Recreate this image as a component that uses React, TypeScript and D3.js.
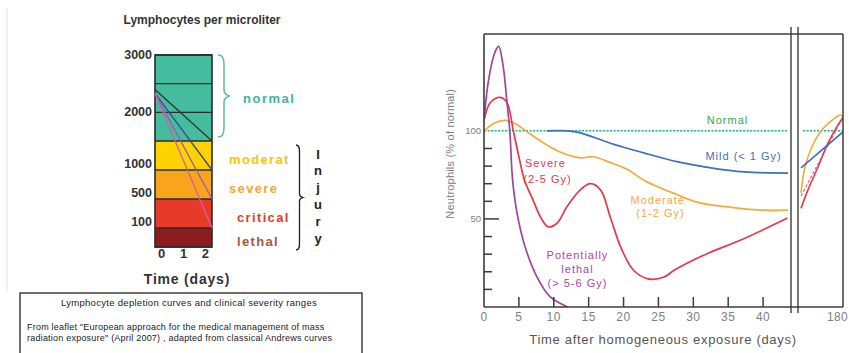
import React from 'react';
import * as d3 from 'd3';

// ---------- Left panel data (lymphocyte depletion) ----------
const severityCategories = ['lethal', 'critical', 'severe', 'moderat', 'normal'];
const severityLower = [0, 100, 500, 1000, 1500];
const severityUpper = [100, 500, 1000, 1500, 3000];
const severityFill = ['#8e1b1e', '#e83a28', '#f8a41c', '#ffd200', '#44bc9e'];
const severityLabelColor = ['#a8563f', '#e8392b', '#f6a533', '#f7c600', '#3db596'];
const gridCounts = [0, 100, 500, 1000, 1500, 2000, 2500, 3000];
const countTicks = [3000, 2000, 1000, 500, 100];
const dayTicks = ['0', '1', '2'];
const depletionStart = [2400, 2330, 2330, 2330];
const depletionEnd = [1500, 1000, 500, 100];
const depletionColor = ['#333333', '#3b4a8c', '#9a5ab4', '#d460a0'];
const injuryLetters = ['I', 'n', 'j', 'u', 'r', 'y'];

// ---------- Right panel data (neutrophils) ----------
const xTicksDays = [5, 10, 15, 20, 25, 30, 35, 40];
const xTickLabels = [0, 5, 10, 15, 20, 25, 30, 35, 40];
const yMinorTicks = [10, 20, 30, 40, 60, 70, 80, 90];
const yMajorTicks = [50];
const yTickLabels = [100, 50];

const mildDays = [9, 12, 13.8, 18.1, 22.9, 27.8, 32.5, 37.3, 43.6];
const mildVals = [100, 100, 98.9, 93, 87.5, 82.4, 79, 76.7, 76];
const moderateDays = [0, 1.5, 3, 4.5, 6, 8, 10.9, 13.8, 15.7, 18.1, 20.6, 22.9, 25.3, 27.8, 30.1, 32.5, 35, 37.3, 39.7, 43.6];
const moderateVals = [100, 104.5, 106, 104, 100, 94.5, 88, 84.7, 85.3, 82, 78, 72, 67.6, 63.6, 60, 58, 56.8, 55.7, 55, 55];
const severeDays = [0, 0.9, 2.3, 3.3, 4.2, 5.1, 5.8, 7, 8.1, 9.2, 10.5, 11.9, 13.8, 15.25, 16.7, 18.1, 19.6, 21.4, 23.5, 25.8, 27.3, 32.2, 36.8, 43.5];
const severeVals = [106, 116, 119, 116, 100, 83.5, 72, 61, 51, 45.5, 47.7, 57, 66.5, 70, 66.5, 51, 34, 21, 16, 17, 21, 30.7, 38, 50.5];
const lethalDays = [0, 0.7, 1.6, 2.1, 2.7, 3.3, 3.7, 4.1, 4.75, 5.9, 7.6, 9.5, 12];
const lethalVals = [106, 130, 145, 148, 138, 116, 100, 72, 53, 34, 17, 5.7, 0];

const mildLateDays = [54, 180];
const mildLateVals = [79, 99.4];
const moderateLateDays = [54, 66, 87, 117, 147, 171, 180];
const moderateLateVals = [64.8, 79.5, 91, 100.6, 106, 109, 108];
const severeLateDays = [54, 75, 105, 135, 165, 180];
const severeLateVals = [56, 66.5, 79.5, 93, 103.4, 107.4];
const severeLate2Days = [54, 180];
const severeLate2Vals = [63, 108];

const C = {
  purple: '#a0449e',
  red: '#e6374f',
  orange: '#f4a93a',
  blue: '#3d6fbf',
  normal: '#27b394',
  normalText: '#35a84a',
  axis: '#3c3c3c',
  gray: '#808080',
};

const FONT = '"Liberation Sans", Arial, Helvetica, sans-serif';

function bracePath(x: number, y1: number, y2: number, w: number) {
  const ym = (y1 + y2) / 2;
  const q = w / 2;
  return `M${x},${y1} C${x + q},${y1} ${x + q},${y1 + q} ${x + q},${y1 + 2 * q} L${x + q},${ym - q} C${x + q},${ym - 1} ${x + w},${ym} ${x + w},${ym} C${x + w},${ym} ${x + q},${ym + 1} ${x + q},${ym + q} L${x + q},${y2 - 2 * q} C${x + q},${y2 - q} ${x + q},${y2} ${x},${y2}`;
}

const zip = (a: number[], b: number[]) => a.map((d, i) => [d, b[i]] as [number, number]);

export default function App() {
  const W = 849, H = 353;

  // left scales
  const yL = d3.scaleLinear().domain([0, 100, 500, 1000, 1500, 3000]).range([247, 228, 199, 170, 141, 55]);
  const colX0 = 155, colX1 = 212;
  const dayX = d3.scaleLinear().domain([0, 2]).range([colX0, colX1]);
  const dayLabelX = d3.scalePoint<string>().domain(dayTicks).range([colX0, colX1]).padding(0.3);
  const injuryY = d3.scalePoint<string>().domain(injuryLetters).range([154, 238]);

  // right scales
  const xN = d3.scaleLinear().domain([0, 44]).range([484, 791]);
  const xR = d3.scaleLinear().domain([45, 180]).range([798, 843]);
  const yN = d3.scaleLinear().domain([0, 155]).range([307, 34]);
  const top = yN(155), bottom = yN(0);
  const left = xN(0), breakL = xN(44), breakR = xR(45), right = xR(180);

  const lineMain = d3.line<[number, number]>().x(d => xN(d[0])).y(d => yN(d[1])).curve(d3.curveCatmullRom.alpha(0.5));
  const lineLate = d3.line<[number, number]>().x(d => xR(d[0])).y(d => yN(d[1])).curve(d3.curveCatmullRom.alpha(0.5));

  const labelStyle = { fontFamily: FONT, fontSize: 11, letterSpacing: 1 } as React.CSSProperties;

  return (
    <svg width={W} height={H} viewBox={`0 0 ${W} ${H}`} style={{ position: 'absolute', left: 0, top: 0, background: '#fff' }} fontFamily={FONT}>
      <defs>
        <clipPath id="clipMain"><rect x={left} y={top - 20} width={breakL - left - 3} height={bottom - top + 20} /></clipPath>
        <clipPath id="clipLate"><rect x={breakR + 1} y={top - 20} width={right - breakR - 1} height={bottom - top + 20} /></clipPath>
      </defs>

      {/* ============ LEFT PANEL ============ */}
      <line x1={7} x2={7} y1={8} y2={292} stroke="#e2e2e2" strokeWidth={1} />
      <text x={202} y={24} textAnchor="middle" fontSize={12} fontWeight="bold" fill="#333">Lymphocytes per microliter</text>

      {severityCategories.map((c, i) => (
        <rect key={c} x={colX0} width={colX1 - colX0} y={yL(severityUpper[i])} height={yL(severityLower[i]) - yL(severityUpper[i])} fill={severityFill[i]} />
      ))}
      {gridCounts.map(v => (
        <line key={v} x1={colX0} x2={colX1} y1={yL(v)} y2={yL(v)} stroke="#2b2b2b" strokeWidth={1.4} />
      ))}
      <rect x={colX0} y={yL(3000)} width={colX1 - colX0} height={yL(0) - yL(3000)} fill="none" stroke="#2b2b2b" strokeWidth={1.6} />

      {depletionStart.map((s, i) => (
        <line key={i} x1={dayX(0)} y1={yL(s)} x2={dayX(2)} y2={yL(depletionEnd[i])} stroke={depletionColor[i]} strokeWidth={1.3} />
      ))}

      {countTicks.map(v => (
        <text key={v} x={colX0 - 3} y={yL(v) - (v < 1500 ? 6 : 0)} textAnchor="end" dominantBaseline="central" fontSize={12.5} fontWeight="bold" fill="#333">{v}</text>
      ))}
      {dayTicks.map(d => (
        <text key={d} x={dayLabelX(d)} y={258} textAnchor="middle" fontSize={13} fontWeight="bold" fill="#333">{d}</text>
      ))}
      <text x={187} y={284} textAnchor="middle" fontSize={14} fontWeight="bold" letterSpacing={0.8} fill="#333">Time (days)</text>

      {/* normal brace + label */}
      <path d={bracePath(218, yL(3000), yL(1500) - 4, 12)} fill="none" stroke="#5cbf9f" strokeWidth={1.5} />
      <text x={243} y={(yL(3000) + yL(1500)) / 2} dominantBaseline="central" fontSize={13} fontWeight="bold" letterSpacing={1.5} fill={severityLabelColor[4]}>normal</text>

      {severityCategories.slice(0, 4).map((c, i) => (
        <text key={c} x={i < 2 ? 237 : 229} y={(yL(severityUpper[i]) + yL(severityLower[i])) / 2 + 4} dominantBaseline="central" fontSize={13} fontWeight="bold" letterSpacing={1.35} fill={severityLabelColor[i]}>{c}</text>
      ))}

      <path d={bracePath(296, yL(1500) + 4, yL(0) + 3, 7)} fill="none" stroke="#222" strokeWidth={1.3} />
      {injuryLetters.map(l => (
        <text key={l} x={318} y={injuryY(l)} textAnchor="middle" dominantBaseline="central" fontSize={13} fontWeight="bold" fill="#222">{l}</text>
      ))}

      {/* caption box */}
      <rect x={20} y={293} width={342} height={70} fill="none" stroke="#333" strokeWidth={1.4} />
      <text x={189} y={306} textAnchor="middle" fontSize={9.5} letterSpacing={0.3} fill="#222">Lymphocyte depletion curves and clinical severity ranges</text>
      <text x={27} y={330} fontSize={9} letterSpacing={0.22} fill="#222">From leaflet "European approach for the medical management of mass</text>
      <text x={27} y={341} fontSize={9} letterSpacing={0.22} fill="#222">radiation exposure" (April 2007) , adapted from classical Andrews curves</text>

      {/* ============ RIGHT PANEL ============ */}
      <line x1={left} x2={breakL - 3} y1={yN(100)} y2={yN(100)} stroke={C.normal} strokeWidth={1.5} strokeDasharray="2.2 1.3" />
      <line x1={breakR + 5} x2={right} y1={yN(100)} y2={yN(100)} stroke={C.normal} strokeWidth={1.5} strokeDasharray="2.2 1.3" />

      <g clipPath="url(#clipMain)" fill="none" strokeWidth={1.7} strokeLinejoin="round">
        <path d={lineMain(zip(mildDays, mildVals)) || ''} stroke={C.blue} />
        <path d={lineMain(zip(moderateDays, moderateVals)) || ''} stroke={C.orange} />
        <path d={lineMain(zip(severeDays, severeVals)) || ''} stroke={C.red} />
        <path d={lineMain(zip(lethalDays, lethalVals)) || ''} stroke={C.purple} />
      </g>
      <g clipPath="url(#clipLate)" fill="none" strokeWidth={1.6} strokeLinejoin="round">
        <path d={lineLate(zip(severeLate2Days, severeLate2Vals)) || ''} stroke={C.red} strokeWidth={1.2} strokeDasharray="3 2" opacity={0.8} />
        <path d={lineLate(zip(moderateLateDays, moderateLateVals)) || ''} stroke={C.orange} />
        <path d={lineLate(zip(severeLateDays, severeLateVals)) || ''} stroke={C.red} />
        <path d={lineLate(zip(mildLateDays, mildLateVals)) || ''} stroke={C.blue} />
      </g>

      {/* frame */}
      <line x1={left} x2={right} y1={top} y2={top} stroke={C.axis} strokeWidth={1.5} />
      <line x1={left} x2={right} y1={bottom} y2={bottom} stroke={C.axis} strokeWidth={1.6} />
      <line x1={left} x2={left} y1={top} y2={bottom} stroke={C.axis} strokeWidth={1.6} />
      <line x1={right} x2={right} y1={top} y2={bottom} stroke={C.axis} strokeWidth={1.5} />
      <line x1={breakL} x2={breakL} y1={top - 7} y2={bottom + 6} stroke={C.axis} strokeWidth={1.4} />
      <line x1={breakR} x2={breakR} y1={top - 7} y2={bottom + 6} stroke={C.axis} strokeWidth={1.4} />

      {/* ticks */}
      {xTicksDays.map(d => (
        <line key={d} x1={xN(d)} x2={xN(d)} y1={bottom} y2={bottom - 10} stroke={C.axis} strokeWidth={1.5} />
      ))}
      {yMinorTicks.map(v => (
        <line key={v} x1={left} x2={left + 8} y1={yN(v)} y2={yN(v)} stroke={C.axis} strokeWidth={1.5} />
      ))}
      {yMajorTicks.map(v => (
        <line key={v} x1={left} x2={left + 15} y1={yN(v)} y2={yN(v)} stroke={C.axis} strokeWidth={1.5} />
      ))}
      {yTickLabels.map(v => (
        <text key={v} x={left - 3} y={yN(v)} textAnchor="end" dominantBaseline="central" fontSize={9.5} fill={C.gray}>{v}</text>
      ))}
      {xTickLabels.map(d => (
        <text key={d} x={xN(d)} y={321} textAnchor="middle" fontSize={12} letterSpacing={0.5} fill={C.gray}>{d}</text>
      ))}
      <text x={W - 1} y={321} textAnchor="end" fontSize={12} letterSpacing={0.3} fill={C.gray}>180</text>

      <text transform={`translate(450,${yN(87)}) rotate(-90)`} textAnchor="middle" dominantBaseline="central" fontSize={11} letterSpacing={0.2} fill={C.gray}>Neutrophils (% of normal)</text>
      <text x={663} y={344} textAnchor="middle" fontSize={13} letterSpacing={0.7} fill="#555">Time after homogeneous exposure (days)</text>

      {/* curve labels */}
      <text x={xN(34.9)} y={yN(106)} textAnchor="middle" dominantBaseline="central" style={labelStyle} fill={C.normalText}>Normal</text>
      <text x={xN(37.2)} y={yN(85.8)} textAnchor="middle" dominantBaseline="central" style={labelStyle} fill={C.blue}>Mild (&lt; 1 Gy)</text>
      <text x={xN(24.9)} y={yN(60.8)} textAnchor="middle" dominantBaseline="central" style={labelStyle} fill={C.orange}>Moderate</text>
      <text x={xN(25.3)} y={yN(53.4)} textAnchor="middle" dominantBaseline="central" style={labelStyle} fill={C.orange}>(1-2 Gy)</text>
      <text x={xN(8.8)} y={yN(81.8)} textAnchor="middle" dominantBaseline="central" style={labelStyle} fill={C.red}>Severe</text>
      <text x={xN(9.1)} y={yN(72.7)} textAnchor="middle" dominantBaseline="central" style={labelStyle} fill={C.red}>(2-5 Gy)</text>
      <text x={xN(13.4)} y={yN(29.5)} textAnchor="middle" dominantBaseline="central" style={labelStyle} fill="#b044b0">Potentially</text>
      <text x={xN(13.4)} y={yN(21.6)} textAnchor="middle" dominantBaseline="central" style={labelStyle} fill="#b044b0">lethal</text>
      <text x={xN(13.4)} y={yN(13.6)} textAnchor="middle" dominantBaseline="central" style={labelStyle} fill="#b044b0">(&gt; 5-6 Gy)</text>
    </svg>
  );
}
